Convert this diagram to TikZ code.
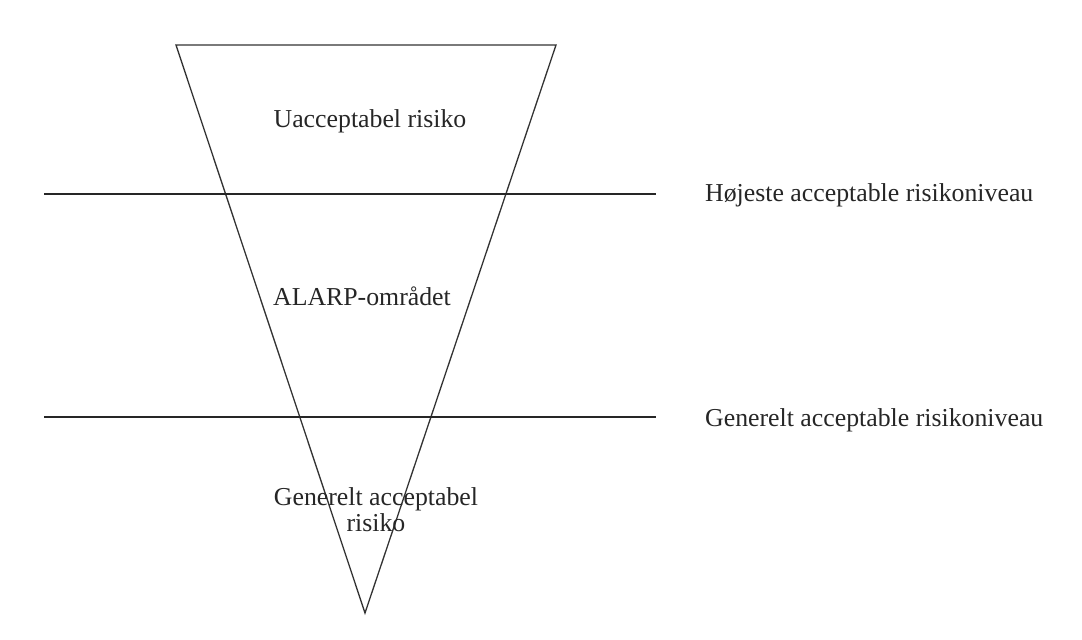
\documentclass[tikz,border=0pt]{standalone}
\usepackage{fontspec}
\setmainfont{Liberation Serif}
\definecolor{mygray}{gray}{0.15}
\begin{document}
\begin{tikzpicture}[x=1pt,y=-1pt]
\useasboundingbox (0,0) rectangle (1082,640);
\fontsize{25.8}{30}\selectfont
\tikzset{lbl/.style={text=mygray,inner sep=0pt}}

\coordinate (tl) at (176,45);
\coordinate (tr) at (556,45);
\coordinate (apex) at (365,613);
\draw [line width=1.3pt,black!80] (tl) -- (tr) -- (apex) -- cycle;
\draw [line width=1.8pt,black!85] (44,194) -- (656,194);
\draw [line width=1.8pt,black!85] (44,417) -- (656,417);

\node[lbl] (unacc) at (370,121) {Uacceptabel risiko};
\node[lbl] (alarp) at (362,296) {ALARP-området};
\node[lbl,align=center] (genacc) at (376,510) {Generelt acceptabel\\[-4pt]risiko};
\node[lbl,anchor=west] (high) at (705,195) {Højeste acceptable risikoniveau};
\node[lbl,anchor=west] (low) at (705,420) {Generelt acceptable risikoniveau};
\end{tikzpicture}
\end{document}
